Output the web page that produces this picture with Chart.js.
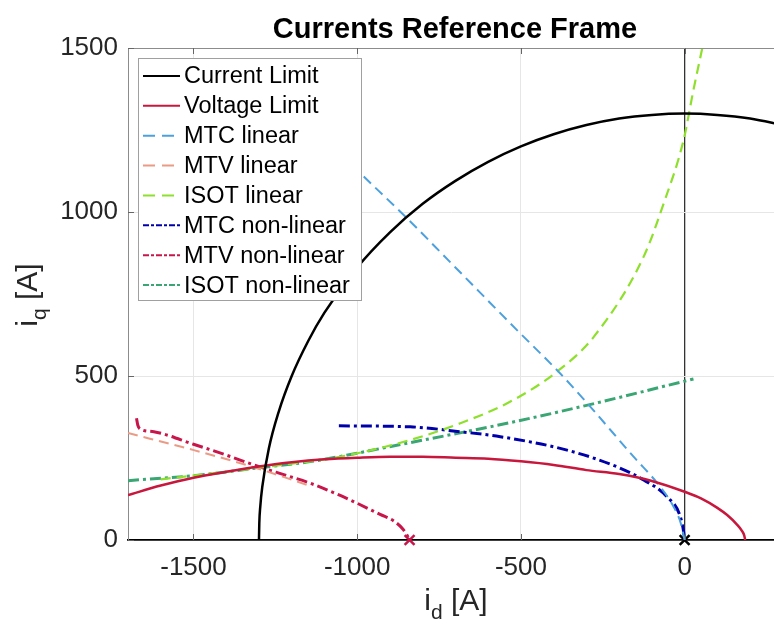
<!DOCTYPE html>
<html>
<head>
<meta charset="utf-8">
<script src="https://cdn.jsdelivr.net/npm/chart.js@4.4.1/dist/chart.umd.min.js"></script>
<style>
  html, body { margin: 0; padding: 0; background: #fff; }
  canvas { display: block; }
</style>
</head>
<body>
<canvas id="myChart" width="774" height="624"></canvas>
<script>
// values (i_d, i_q in A)
var currentLimitId = [-1300, -1299, -1296, -1290, -1270, -1240, -1200, -1150, -1100, -1000, -900, -800, -700, -600, -500, -400, -300, -200, -100, 0, 100, 200, 300];
var currentLimitIq = [0, 51, 102, 161, 278, 390, 500, 606, 693, 831, 938, 1025, 1095, 1153, 1200, 1237, 1265, 1285, 1296, 1300, 1296, 1285, 1265];

var voltageLimitId = [-1700, -1600, -1500, -1400, -1300, -1200, -1100, -1000, -900, -800, -700, -600, -500, -400, -300, -200, -100, 0, 50, 100, 130, 160, 175, 182, 185];
var voltageLimitIq = [137, 166, 190, 208, 224, 237, 246, 251, 254, 254, 251, 248, 240, 229, 213, 201, 180, 147, 127, 98, 76, 47, 28, 14, 0];

var mtcLinId = [-980, -848, -700, -512, -385, -293, -156, -79, -34, -12, 0];
var mtcLinIq = [1108, 981, 831, 640, 513, 412, 254, 168, 102, 52, 0];

var mtvLinId = [-1700, -1499, -1316, -1153];
var mtvLinIq = [326, 274, 222, 168];

var isotLinId = [-1600, -1285, -1041, -838, -685, -532, -390, -277, -125, -64, -3, 27, 54];
var isotLinIq = [185, 222, 256, 305, 356, 422, 513, 620, 864, 1026, 1220, 1372, 1500];

var mtcNonId = [-1056, -838, -685, -563, -359, -206, -125, -54, -13, -3, 0];
var mtcNonIq = [348, 345, 330, 315, 274, 223, 183, 132, 71, 25, 0];

var mtvNonId = [-1674, -1670, -1662, -1621, -1500, -1400, -1316, -1214, -1143, -1050, -1000, -930, -888, -860, -848, -840];
var mtvNonIq = [371, 350, 338, 330, 292, 259, 229, 196, 173, 135, 112, 78, 58, 33, 15, 0];

var isotNonId = [-1700, -1500, -1285, -1143, -838, -532, -293, 27];
var isotNonIq = [181, 196, 222, 239, 297, 358, 412, 491];

// end points marked with a cross
var mtcEnd = [0, 0];
var mtvEnd = [-840, 0];

var xTicks = [-1500, -1000, -500, 0];
var yTicks = [0, 500, 1000, 1500];

var FONT = "'Liberation Sans', Arial, Helvetica, sans-serif";
var DASH = [10, 6];
var DASHDOT = [11, 4, 3, 4];

function pts(xs, ys) {
  return xs.map(function(x, i) { return { x: x, y: ys[i] }; });
}

function series(label, xs, ys, color, dash, width) {
  return {
    label: label,
    data: pts(xs, ys),
    borderColor: color,
    borderWidth: width || 2.5,
    borderDash: dash,
    pointRadius: 0,
    fill: false,
    cubicInterpolationMode: 'monotone'
  };
}

function marker(p, color) {
  return {
    label: '',
    inLegend: false,
    data: [{ x: p[0], y: p[1] }],
    showLine: false,
    pointStyle: 'crossRot',
    pointRadius: 7,
    pointBorderWidth: 2.5,
    pointBorderColor: color,
    borderColor: color,
    clip: false
  };
}

var datasets = [
  series('Current Limit', currentLimitId, currentLimitIq, '#000000', [], 2.5),
  series('Voltage Limit', voltageLimitId, voltageLimitIq, '#c8173c', [], 2.5),
  series('MTC linear', mtcLinId, mtcLinIq, '#4da0de', DASH, 2),
  series('MTV linear', mtvLinId, mtvLinIq, '#eb9a86', DASH, 2),
  series('ISOT linear', isotLinId, isotLinIq, '#8fe02c', DASH, 2.2),
  series('MTC non-linear', mtcNonId, mtcNonIq, '#0000aa', DASHDOT, 3),
  series('MTV non-linear', mtvNonId, mtvNonIq, '#c8164a', DASHDOT, 3),
  series('ISOT non-linear', isotNonId, isotNonIq, '#3aa673', DASHDOT, 3),
  marker(mtcEnd, '#000000'),
  marker(mtvEnd, '#c8164a')
];

// title, axis labels, frame, inward ticks and the boxed legend
function drawLabel(c, sub, x, y) {
  var w1, w2, w3;
  c.font = '30px ' + FONT; w1 = c.measureText('i').width;
  w3 = c.measureText(' [A]').width;
  c.font = '21px ' + FONT; w2 = c.measureText(sub).width;
  var x0 = x - (w1 + w2 + w3) / 2;
  c.textAlign = 'left';
  c.textBaseline = 'alphabetic';
  c.font = '30px ' + FONT; c.fillText('i', x0, y);
  c.font = '21px ' + FONT; c.fillText(sub, x0 + w1, y + 9);
  c.font = '30px ' + FONT; c.fillText(' [A]', x0 + w1 + w2, y);
}

var decor = {
  id: 'decor',
  afterDatasetsDraw: function(chart) {
    var c = chart.ctx, a = chart.chartArea;
    var xs = chart.scales.x, ys = chart.scales.y;
    c.save();
    // top frame
    c.strokeStyle = '#8c8c8c'; c.lineWidth = 1;
    c.beginPath(); c.moveTo(a.left, a.top + 0.5); c.lineTo(a.right, a.top + 0.5); c.stroke();
    // inward ticks
    c.strokeStyle = '#666';
    xTicks.forEach(function(v) {
      var px = Math.round(xs.getPixelForValue(v)) + 0.5;
      c.beginPath(); c.moveTo(px, a.top); c.lineTo(px, a.top + 6);
      c.moveTo(px, a.bottom); c.lineTo(px, a.bottom - 6); c.stroke();
    });
    yTicks.forEach(function(v) {
      var py = Math.round(ys.getPixelForValue(v)) + 0.5;
      c.beginPath(); c.moveTo(a.left, py); c.lineTo(a.left + 6, py); c.stroke();
    });

    // legend box
    var lx = 138, ly = 58, lw = 223, lh = 242;
    c.fillStyle = '#fff';
    c.fillRect(lx, ly, lw, lh);
    c.strokeStyle = '#a0a0a0'; c.lineWidth = 1;
    c.strokeRect(lx + 0.5, ly + 0.5, lw, lh);
    c.font = '23.5px ' + FONT;
    c.textBaseline = 'middle';
    c.textAlign = 'left';
    var items = chart.data.datasets.filter(function(d) { return d.inLegend !== false; });
    items.forEach(function(d, i) {
      var y = 76 + i * 29.86;
      c.strokeStyle = d.borderColor;
      c.lineWidth = 2;
      c.setLineDash(d.borderDash && d.borderDash.length ? (d.borderDash === DASH ? [12, 7] : [6, 2, 3, 2]) : []);
      c.beginPath(); c.moveTo(143, y); c.lineTo(180, y); c.stroke();
      c.setLineDash([]);
      c.fillStyle = '#000';
      c.fillText(d.label, 184, y + 1);
    });

    // title
    c.fillStyle = '#000';
    c.font = 'bold 29px ' + FONT;
    c.textAlign = 'center';
    c.textBaseline = 'alphabetic';
    c.fillText('Currents Reference Frame', 455, 38);

    // axis labels
    c.fillStyle = '#262626';
    drawLabel(c, 'd', 456, 610);
    c.translate(37, 295);
    c.rotate(-Math.PI / 2);
    drawLabel(c, 'q', 0, 0);
    c.restore();
  }
};

var ctx = document.getElementById('myChart').getContext('2d');

var chart = new Chart(ctx, {
  type: 'line',
  data: { datasets: datasets },
  options: {
    responsive: false,
    animation: false,
    devicePixelRatio: 1,
    layout: { autoPadding: false, padding: { top: 48, left: 0, right: 0, bottom: 0 } },
    plugins: {
      legend: { display: false },
      title: { display: false },
      tooltip: { enabled: false }
    },
    scales: {
      x: {
        type: 'linear',
        min: -1700,
        max: 273,
        afterFit: function(s) { s.height = 84; s.paddingLeft = 0; s.paddingRight = 0; },
        afterBuildTicks: function(s) { s.ticks = xTicks.map(function(v) { return { value: v }; }); },
        ticks: {
          padding: 12,
          color: '#262626',
          font: { family: FONT, size: 26 },
          callback: function(v) { return String(v); }
        },
        grid: {
          drawTicks: false,
          color: function(c) { return c.tick && c.tick.value === 0 ? '#333333' : '#e6e6e6'; },
          lineWidth: function(c) { return c.tick && c.tick.value === 0 ? 1.3 : 1; }
        },
        border: { color: '#000', width: 1.8 }
      },
      y: {
        type: 'linear',
        min: 0,
        max: 1500,
        afterFit: function(s) { s.width = 128; s.paddingTop = 0; s.paddingBottom = 0; },
        afterBuildTicks: function(s) { s.ticks = yTicks.map(function(v) { return { value: v }; }); },
        ticks: {
          padding: 10,
          color: '#262626',
          font: { family: FONT, size: 26 },
          callback: function(v) { return String(v); }
        },
        grid: {
          drawTicks: false,
          color: function(c) { return c.tick && c.tick.value === 0 ? 'rgba(0,0,0,0)' : '#e6e6e6'; }
        },
        border: { color: '#8c8c8c', width: 1 }
      }
    }
  },
  plugins: [decor]
});
</script>
</body>
</html>
